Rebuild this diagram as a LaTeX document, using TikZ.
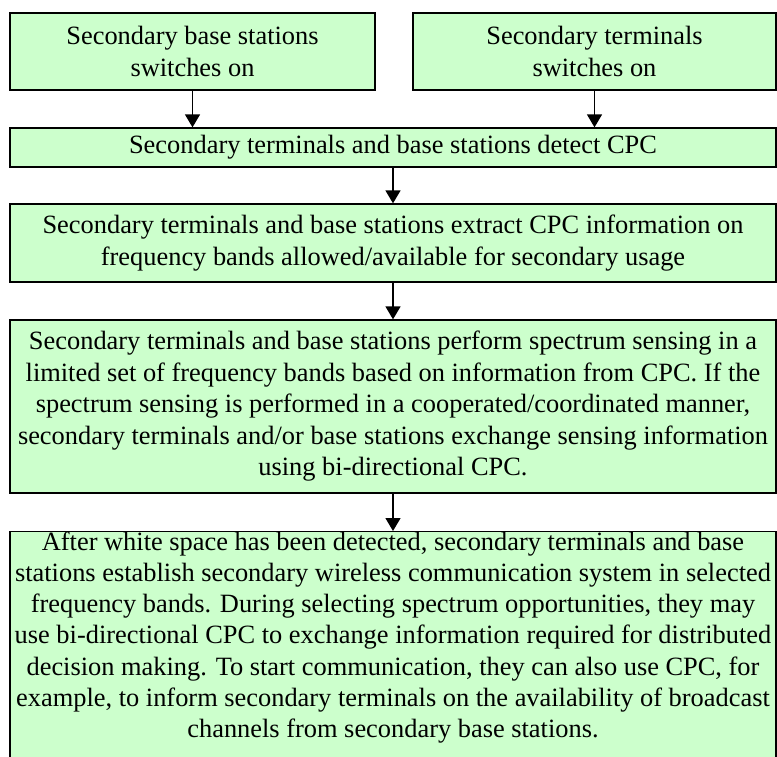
\documentclass[tikz,border=0pt]{standalone}
\usepackage{fontspec}
\setmainfont{Liberation Serif}
\usetikzlibrary{arrows.meta}
\definecolor{boxgreen}{HTML}{CCFFCC}
\tikzset{
  stepbox/.style={draw=black, line width=1.3pt, fill=boxgreen, inner sep=0pt,
    align=center, font=\fontsize{26.4}{31.5}\selectfont},
  flow/.style={draw=black, line width=1.4pt, -{Triangle[width=15pt,length=13pt]}}
}
\begin{document}
\begin{tikzpicture}[x=1pt,y=1pt]
\useasboundingbox (0,0) rectangle (777,-756);
\clip (0,0) rectangle (777,-756);
\node[stepbox, minimum width=365pt, minimum height=77pt] (b1) at (192.5,-51.5)
  {Secondary base stations\\switches on};
\node[stepbox, minimum width=363pt, minimum height=77pt] (b2) at (594.5,-51.5)
  {Secondary terminals\\switches on};
\node[stepbox, minimum width=766pt, minimum height=39pt] (b3) at (393,-147.5)
  {Secondary terminals and base stations detect CPC};
\node[stepbox, minimum width=766pt, minimum height=78pt] (b4) at (393,-243)
  {Secondary terminals and base stations extract CPC information on\\
   frequency bands allowed/available for secondary usage};
\node[stepbox, minimum width=766pt, minimum height=173pt] (b5) at (393,-406.5)
  {Secondary terminals and base stations perform spectrum sensing in a\\
   limited set of frequency bands based on information from CPC. If the\\
   spectrum sensing is performed in a cooperated/coordinated manner,\\
   secondary terminals and/or base stations exchange sensing information\\
   using bi-directional CPC.};
\node[stepbox, anchor=north] (b6) at (393,-531)
  {\parbox[t][260pt][t]{766pt}{\centering\fontsize{26.4}{31.2}\selectfont
   After white space has been detected, secondary terminals and base\\
   stations establish secondary wireless communication system in selected\\
   frequency bands. During selecting spectrum opportunities, they may\\
   use bi-directional CPC to exchange information required for distributed\\
   decision making. To start communication, they can also use CPC, for\\
   example, to inform secondary terminals on the availability of broadcast\\
   channels from secondary base stations.}};
\draw[flow] (b1.south) -- (b1.south |- b3.north);
\draw[flow] (b2.south) -- (b2.south |- b3.north);
\draw[flow] (b3.south) -- (b4.north);
\draw[flow] (b4.south) -- (b5.north);
\draw[flow] (b5.south) -- (b6.north);
\end{tikzpicture}
\end{document}
